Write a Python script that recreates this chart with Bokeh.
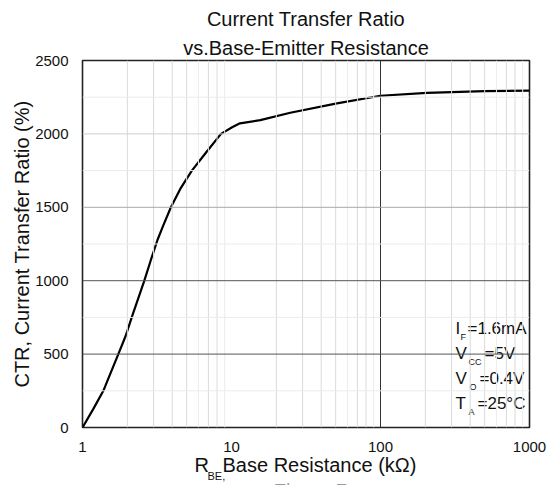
from bokeh.plotting import figure
from bokeh.layouts import column
from bokeh.models import Range1d, FixedTicker, Span, PrintfTickFormatter, Title
from bokeh.core.properties import value
from bokeh.embed import file_html
from bokeh.resources import INLINE

# ---- data ----
r_be = [1, 1.18, 1.38, 1.55, 1.74, 1.95, 2.14, 2.6, 2.88, 3.19, 3.48, 3.92, 4.53, 5.42,
        6.77, 8.5, 10.1, 11.4, 15.6, 24.8, 51, 100, 205, 500, 1000]
ctr = [0, 125, 250, 375, 500, 625, 750, 1000, 1143, 1279, 1375, 1500, 1625, 1750,
       1875, 2000, 2045, 2072, 2094, 2144, 2208, 2260, 2280, 2292, 2295]
x_ticks = [1, 10, 100, 1000]
y_ticks = [0, 500, 1000, 1500, 2000, 2500]

title_lines = ["Current Transfer Ratio", "vs.Base-Emitter Resistance"]
y_label = "CTR, Current Transfer Ratio (%)"
x_label_parts = ["R", "BE,", " Base Resistance (kΩ)"]
conditions = [("I", "F", "=1.6mA"), ("V", "CC", "=5V"), ("V", "O", "=0.4V"), ("T", "A", "=25°C")]
caption = "Figure 7"

FONT = "Liberation Sans"
W = 549
FL, FT, FW, FH = 82, 60, 447, 368
BOT_BORDER = 26
MAIN_H = FT + FH + BOT_BORDER
BOT_H = 485 - MAIN_H

# ---- main plot ----
p = figure(width=W, height=MAIN_H, x_axis_type="log", output_backend="svg",
           toolbar_location=None, x_range=Range1d(1, 1000), y_range=Range1d(0, 2500),
           min_border_left=FL, min_border_top=FT, min_border_right=W - FL - FW,
           min_border_bottom=BOT_BORDER)
p.background_fill_color = "white"
p.border_fill_color = "white"
p.outline_line_color = "#222222"
p.outline_line_width = 1.6
p.xgrid.visible = False
p.ygrid.visible = False

# titles (nearest to frame added first)
p.add_layout(Title(text=title_lines[1], align="center", text_font=FONT,
                   text_font_size="20px", text_font_style="normal",
                   text_color="#111111", standoff=4), "above")
p.add_layout(Title(text=title_lines[0], align="center", text_font=FONT,
                   text_font_size="20px", text_font_style="normal",
                   text_color="#111111", standoff=6), "above")

for ax, ticks in ((p.xaxis, x_ticks), (p.yaxis, y_ticks)):
    ax.ticker = FixedTicker(ticks=ticks, minor_ticks=[])
    ax.formatter = PrintfTickFormatter(format="%d")
    ax.axis_line_color = None
    ax.major_tick_line_color = None
    ax.minor_tick_line_color = None
    ax.major_label_text_font = FONT
    ax.major_label_text_font_size = "15px"
    ax.major_label_text_color = "#111111"
    ax.major_label_standoff = 8

p.yaxis.axis_label = y_label
p.yaxis.axis_label_text_font = FONT
p.yaxis.axis_label_text_font_size = "20px"
p.yaxis.axis_label_text_font_style = "normal"
p.yaxis.axis_label_text_color = "#111111"
p.yaxis.axis_label_standoff = -1

# minor vertical grid lines
for dec in (1, 10, 100):
    for k in range(2, 10):
        col = "#dadada" if k in (2, 3, 4, 5, 7, 8) else "#ececec"
        p.add_layout(Span(location=dec * k, dimension="height", line_color=col, line_width=1))
p.add_layout(Span(location=100, dimension="height", line_color="#333333", line_width=1))

# horizontal grid lines
for v in (250, 750, 1250, 1750, 2250):
    p.add_layout(Span(location=v, dimension="width", line_color="#ebebeb", line_width=1))
for v, col in ((500, "#555555"), (1000, "#555555"), (1500, "#a8a8a8"), (2000, "#cfcfcf")):
    p.add_layout(Span(location=v, dimension="width", line_color=col, line_width=1))

p.line(r_be, ctr, line_color="black", line_width=2.2)

# conditions block (pixel helpers for placement inside the frame)
DEC = FW / 3.0


def dx(px):
    return 10 ** ((px - FL) / DEC)


def dy(py):
    return (FT + FH - py) / FH * 2500


rows_y = [329, 354, 379, 404]
sub_x = [460, 468, 469, 468]
rest_x = [467, 484, 479, 477]
for (m, s, r), yy, sx, rx in zip(conditions, rows_y, sub_x, rest_x):
    p.text(x=[dx(455)], y=[dy(yy)], text=[m], text_font=value(FONT), text_font_size="17px",
           text_baseline="middle", text_color="#111111")
    p.text(x=[dx(sx)], y=[dy(yy + 8)], text=[s], text_font=value(FONT), text_font_size="9px",
           text_baseline="middle", text_color="#111111")
    p.text(x=[dx(rx)], y=[dy(yy)], text=[r], text_font=value(FONT), text_font_size="17px",
           text_baseline="middle", text_color="#111111")

# ---- x label strip (its frame aligns with the main frame: x in page pixels) ----
bot = figure(width=W, height=BOT_H, output_backend="svg", toolbar_location=None,
             x_range=Range1d(FL, FL + FW), y_range=Range1d(BOT_H, 0),
             x_axis_location=None, y_axis_location=None,
             min_border=0, min_border_left=FL, min_border_right=W - FL - FW,
             min_border_top=0, min_border_bottom=0)
bot.outline_line_color = None
bot.xgrid.visible = False
bot.ygrid.visible = False
bot.background_fill_color = "white"
bot.border_fill_color = "white"

y0 = MAIN_H
for txt, xx, yy, size in ((x_label_parts[0], 194, 464, 20),
                          (x_label_parts[1], 207, 475, 11),
                          (x_label_parts[2], 222, 464, 20)):
    bot.text(x=[xx], y=[yy - y0], text=[txt], text_font=value(FONT), text_font_size=f"{size}px",
             text_baseline="middle", text_color="#111111")
bot.text(x=[310], y=[490 - y0], text=[caption], text_font=value(FONT), text_font_size="20px",
         text_baseline="middle", text_align="center", text_color="#9a9a9a")

layout = column(p, bot, spacing=0)
open("out.html", "w").write(file_html(layout, INLINE))
